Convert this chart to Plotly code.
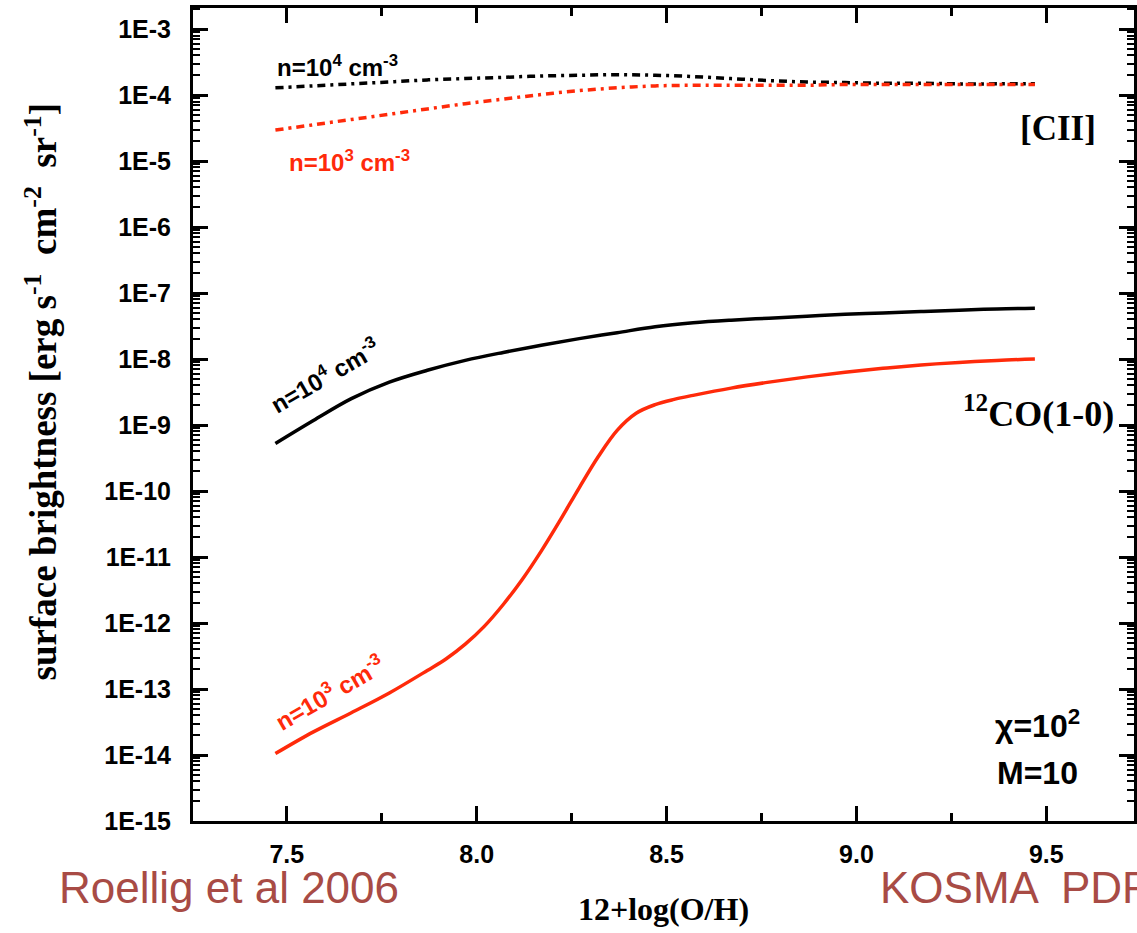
import plotly.graph_objects as go

# 12+log(O/H) grid of the model runs
oh = [7.47, 7.57, 7.67, 7.77, 7.87, 7.97, 8.07, 8.17, 8.27, 8.37, 8.47,
      8.57, 8.67, 8.77, 8.87, 8.97, 9.07, 9.17, 9.27, 9.37, 9.47]

# [CII] surface brightness, n = 1e4 cm^-3
cii_n4 = [1.29e-4, 1.38e-4, 1.48e-4, 1.58e-4, 1.70e-4, 1.78e-4, 1.86e-4,
          1.95e-4, 2.00e-4, 2.04e-4, 2.00e-4, 1.91e-4, 1.78e-4, 1.66e-4,
          1.58e-4, 1.55e-4, 1.51e-4, 1.51e-4, 1.48e-4, 1.48e-4, 1.48e-4]

# [CII] surface brightness, n = 1e3 cm^-3
cii_n3 = [2.95e-5, 3.55e-5, 4.27e-5, 5.13e-5, 6.17e-5, 7.41e-5, 8.71e-5,
          1.02e-4, 1.17e-4, 1.29e-4, 1.38e-4, 1.41e-4, 1.41e-4, 1.41e-4,
          1.41e-4, 1.45e-4, 1.45e-4, 1.45e-4, 1.45e-4, 1.45e-4, 1.45e-4]

# 12CO(1-0) surface brightness, n = 1e4 cm^-3
co_n4 = [5.25e-10, 1.17e-9, 2.51e-9, 4.47e-9, 6.76e-9, 9.55e-9, 1.26e-8,
         1.62e-8, 2.04e-8, 2.51e-8, 3.09e-8, 3.55e-8, 3.89e-8, 4.17e-8,
         4.47e-8, 4.79e-8, 5.01e-8, 5.25e-8, 5.50e-8, 5.75e-8, 5.89e-8]

# 12CO(1-0), n = 1e3 cm^-3: sampled more finely across the steep rise
oh_co_n3 = [7.47, 7.57, 7.67, 7.77, 7.87, 7.92, 7.97, 8.02, 8.07, 8.12,
            8.17, 8.22, 8.27, 8.32, 8.37, 8.42, 8.47, 8.52, 8.57, 8.67,
            8.77, 8.87, 8.97, 9.07, 9.17, 9.27, 9.37, 9.47]
co_n3 = [1.05e-14, 2.24e-14, 4.37e-14, 8.71e-14, 1.91e-13, 2.88e-13,
         4.79e-13, 8.91e-13, 1.91e-12, 4.57e-12, 1.23e-11, 3.63e-11,
         1.12e-10, 3.31e-10, 8.32e-10, 1.51e-9, 2.04e-9, 2.45e-9, 2.82e-9,
         3.63e-9, 4.47e-9, 5.37e-9, 6.31e-9, 7.24e-9, 8.13e-9, 8.91e-9,
         9.55e-9, 1.00e-8]

# axis ticks
x_ticks = [7.5, 8.0, 8.5, 9.0, 9.5]
x_tick_labels = ["7.5", "8.0", "8.5", "9.0", "9.5"]
y_exponents = [-3, -4, -5, -6, -7, -8, -9, -10, -11, -12, -13, -14, -15]
y_tick_labels = ["1E%d" % e for e in y_exponents]

BLACK = "#000000"
RED = "#ff2a0a"
BROWN = "#a84b45"
SANS = "Liberation Sans, Arial, sans-serif"
SERIF = "Liberation Serif, Times New Roman, serif"
DASHDOT = "8px,5px,3px,5px"

fig = go.Figure()
fig.add_trace(go.Scatter(x=oh, y=cii_n4, mode="lines",
                         line=dict(color=BLACK, width=3.5, dash=DASHDOT,
                                   shape="spline", smoothing=1)))
fig.add_trace(go.Scatter(x=oh, y=cii_n3, mode="lines",
                         line=dict(color=RED, width=3.5, dash=DASHDOT,
                                   shape="spline", smoothing=1)))
fig.add_trace(go.Scatter(x=oh, y=co_n4, mode="lines",
                         line=dict(color=BLACK, width=3.5, shape="spline",
                                   smoothing=1)))
fig.add_trace(go.Scatter(x=oh_co_n3, y=co_n3, mode="lines",
                         line=dict(color=RED, width=3.5, shape="spline",
                                   smoothing=1)))

minor_y = [k * 10.0 ** e for e in range(-15, -2) for k in range(2, 10)]

fig.update_xaxes(
    range=[7.253, 9.731],
    showline=True, linecolor="black", linewidth=3, mirror="allticks",
    ticks="inside", ticklen=15, tickwidth=2.5, tickcolor="black",
    tickvals=x_ticks, ticktext=x_tick_labels,
    tickfont=dict(family=SANS, size=25, color="black", weight="bold"),
    ticklabelstandoff=9,
    minor=dict(ticks="inside", ticklen=8, tickwidth=2.5, tickcolor="black",
               tickvals=[7.75, 8.25, 8.75, 9.25]),
    showgrid=False, zeroline=False,
    title=dict(text="12+log(O/H)", standoff=31,
               font=dict(family=SERIF, size=32, color="black", weight="bold")),
)
fig.update_yaxes(
    type="log", range=[-15, -2.68],
    showline=True, linecolor="black", linewidth=3, mirror="allticks",
    ticks="inside", ticklen=15, tickwidth=2.5, tickcolor="black",
    tickvals=[10.0 ** e for e in y_exponents], ticktext=y_tick_labels,
    tickfont=dict(family=SANS, size=25, color="black", weight="bold"),
    ticklabelstandoff=14,
    minor=dict(ticks="inside", ticklen=7, tickwidth=2, tickcolor="black",
               tickvals=minor_y),
    showgrid=False, zeroline=False,
)

lab = dict(family=SANS, size=24, weight="bold")
annotations = [
    # y-axis title, placed slightly above the plot centre
    dict(xref="paper", yref="paper", x=-0.161, y=0.529, textangle=-90,
         xanchor="center", yanchor="middle",
         text="surface brightness [erg s<sup>-1</sup>  cm<sup>-2</sup>  sr<sup>-1</sup>]",
         font=dict(family=SERIF, size=37, color="black", weight="bold")),
    dict(x=7.47, y=-3.56, xanchor="left", yanchor="middle",
         text="n=10<sup>4</sup> cm<sup>-3</sup>", font=dict(lab, color=BLACK)),
    dict(x=7.5, y=-5.0, xanchor="left", yanchor="middle",
         text="n=10<sup>3</sup> cm<sup>-3</sup>", font=dict(lab, color=RED)),
    dict(x=7.6, y=-8.24, textangle=-30,
         text="n=10<sup>4</sup> cm<sup>-3</sup>", font=dict(lab, color=BLACK)),
    dict(x=7.613, y=-13.05, textangle=-30,
         text="n=10<sup>3</sup> cm<sup>-3</sup>", font=dict(lab, color=RED)),
    dict(x=9.53, y=-4.5, text="[CII]",
         font=dict(family=SERIF, size=35, color="black", weight="bold")),
    dict(x=9.48, y=-8.8, text="<sup>12</sup>CO(1-0)",
         font=dict(family=SERIF, size=36, color="black", weight="bold")),
    dict(x=9.476, y=-13.53, text="χ=10<sup>2</sup>",
         font=dict(family=SANS, size=32, color="black", weight="bold")),
    dict(x=9.476, y=-14.27, text="M=10",
         font=dict(family=SANS, size=32, color="black", weight="bold")),
    dict(xref="paper", yref="paper", x=-0.145, y=-0.082, xanchor="left",
         yanchor="middle", text="Roellig et al 2006",
         font=dict(family=SANS, size=44, color=BROWN)),
    dict(xref="paper", yref="paper", x=0.728, y=-0.082, xanchor="left",
         yanchor="middle", text="KOSMA  PDR",
         font=dict(family=SANS, size=44, color=BROWN)),
]
for a in annotations:
    a.setdefault("showarrow", False)
    a.setdefault("xref", "x")
    a.setdefault("yref", "y")
    fig.add_annotation(**a)

fig.update_layout(
    width=1137, height=933,
    margin=dict(l=193, r=0, t=8, b=112),
    plot_bgcolor="white", paper_bgcolor="white",
    showlegend=False,
)

fig.write_html("out.html")
